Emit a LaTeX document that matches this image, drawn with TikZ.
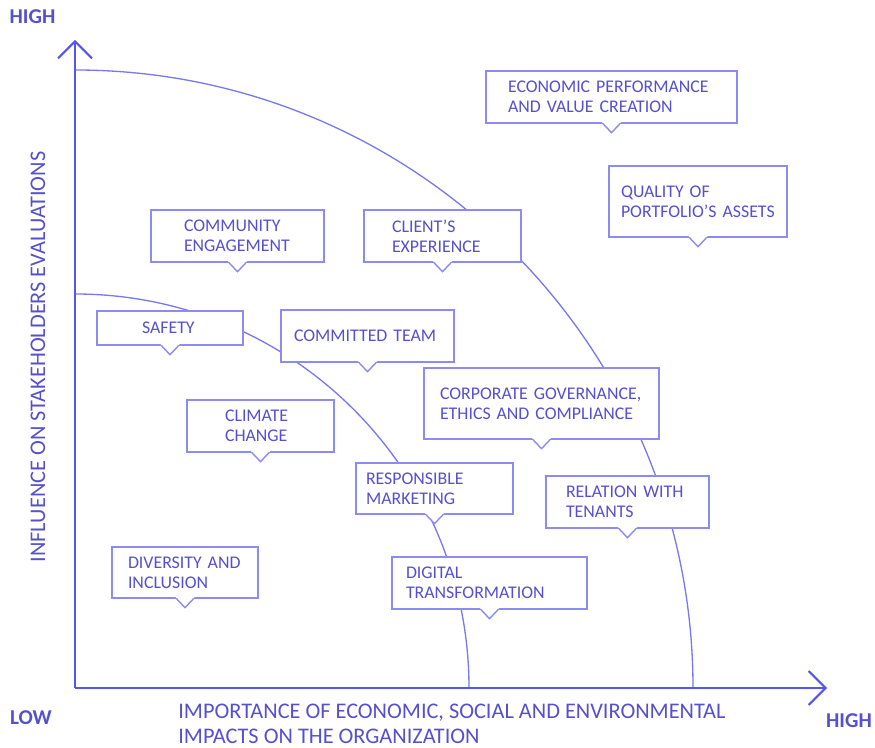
\documentclass[tikz,border=0pt]{standalone}
\usepackage{fontspec}
\setmainfont{Carlito}
\usepackage{xcolor}
\usepackage{tikz}
\usetikzlibrary{arrows.meta,positioning}
\definecolor{axisblue}{RGB}{85,85,240}
\definecolor{arcblue}{RGB}{120,120,240}
\definecolor{tagblue}{RGB}{140,140,240}
\definecolor{textblue}{RGB}{85,80,205}
\tikzset{
  tag/.style={draw=tagblue, fill=white, line width=0.8pt, text=textblue, align=left,
    inner ysep=2pt, minimum height=1.04cm, font=\fontsize{10.15}{11.5}\selectfont},
  tagline/.style={draw=tagblue, line width=0.8pt},
  axisline/.style={draw=axisblue, line width=1.2pt, -{Straight Barb[length=0.34cm,width=0.68cm]}},
  ring/.style={draw=arcblue, line width=0.75pt},
  axislabel/.style={text=textblue, inner sep=0pt, align=left, font=\fontsize{12.7}{14.3}\selectfont},
  endlabel/.style={text=textblue, inner sep=0pt, font=\bfseries\fontsize{12}{14}\selectfont},
}

\begin{document}
\begin{tikzpicture}
    \useasboundingbox (0,0) rectangle (17.5,14.96);
    % axes and the two materiality rings
    \coordinate (O) at (1.5,1.2);
    \coordinate (ytop) at (1.5,14.16);
    \coordinate (xend) at (16.54,1.2);
    \draw[ring] (1.5,13.56) arc[start angle=90,end angle=0,radius=12.36];
    \draw[ring] (1.5,9.08) arc[start angle=90,end angle=0,radius=7.88];
    \draw[axisline] (O) -- (ytop);
    \draw[axisline] (O) -- (xend);
    \node[endlabel] (yhigh) at (0.65,14.62) {HIGH};
    \node[endlabel] (low) at (0.62,0.6) {LOW};
    \node[endlabel] (xhigh) at (16.98,0.54) {HIGH};
    \node[axislabel, anchor=west] (xlabel) at (3.56,0.48)
        {IMPORTANCE OF ECONOMIC, SOCIAL AND ENVIRONMENTAL\\IMPACTS ON THE ORGANIZATION};
    \node[axislabel, rotate=90] (ylabel) at (0.76,7.82) {INFLUENCE ON STAKEHOLDERS EVALUATIONS};
    % topics
    \node[tag, text width=4.14cm, inner xsep=0.44cm] (econ) at (12.23,13.02)
        {ECONOMIC~PERFORMANCE\\AND~VALUE~CREATION};
    \node[tag, text width=3.08cm, inner xsep=0.24cm, minimum height=1.42cm] (quality) at (13.96,10.93)
        {QUALITY~OF\\PORTFOLIO'S~ASSETS};
    \node[tag, text width=2.14cm, inner xsep=0.66cm] (community) at (4.75,10.24)
        {COMMUNITY\\ENGAGEMENT};
    \node[tag, text width=2.02cm, inner xsep=0.56cm] (client) at (8.85,10.24)
        {CLIENT'S\\EXPERIENCE};
    \node[tag, text width=1.12cm, inner xsep=0.9cm, minimum height=0.68cm] (safety) at (3.4,8.4)
        {SAFETY};
    \node[tag, text width=2.94cm, inner xsep=0.26cm] (committed) at (7.35,8.24)
        {COMMITTED~TEAM};
    \node[tag, text width=4.06cm, inner xsep=0.32cm, minimum height=1.42cm] (corporate) at (10.83,6.89)
        {CORPORATE~GOVERNANCE,\\ETHICS~AND~COMPLIANCE};
    \node[tag, text width=1.42cm, inner xsep=0.76cm] (climate) at (5.21,6.44)
        {CLIMATE\\CHANGE};
    \node[tag, text width=2.74cm, inner xsep=0.2cm, minimum height=1.02cm] (responsible) at (8.69,5.19)
        {RESPONSIBLE\\MARKETING};
    \node[tag, text width=2.46cm, inner xsep=0.4cm] (relation) at (12.55,4.92)
        {RELATION~WITH\\TENANTS};
    \node[tag, text width=2.28cm, inner xsep=0.32cm, minimum height=1.02cm] (diversity) at (3.7,3.51)
        {DIVERSITY~AND\\INCLUSION};
    \node[tag, text width=3.34cm, inner xsep=0.28cm] (digital) at (9.79,3.3)
        {DIGITAL\\TRANSFORMATION};
    % callout pointers
    \foreach \n in {econ,quality,community,client,safety,committed,corporate,climate,responsible,relation,diversity,digital}{
        \fill[white] ([xshift=-0.19cm,yshift=0.03cm]\n.south) -- ([yshift=-0.16cm]\n.south)
            -- ([xshift=0.19cm,yshift=0.03cm]\n.south) -- cycle;
        \draw[tagline] ([xshift=-0.17cm]\n.south) -- ([yshift=-0.18cm]\n.south) -- ([xshift=0.17cm]\n.south);
    }
\end{tikzpicture}
\end{document}
